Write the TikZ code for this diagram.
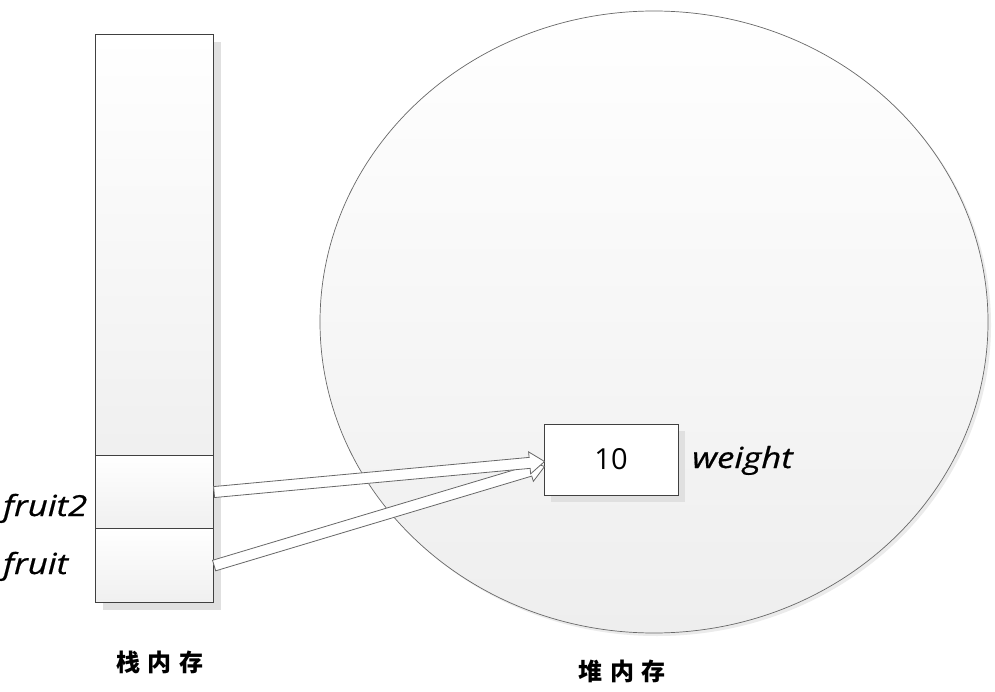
\documentclass[tikz,border=0pt]{standalone}
\usepackage{fontspec}
\usetikzlibrary{shapes.geometric,shadows,calc}
\newfontfamily\labelfont{Open Sans}
\newfontfamily\itlabelfont[FakeStretch=1.2, FakeBold=0.6]{Open Sans Italic}
\newfontfamily\cjk{Noto Sans CJK SC}
\definecolor{shadowgray}{HTML}{E0E0E0}
\definecolor{edgedark}{HTML}{404040}
\definecolor{edgegray}{HTML}{686868}
\definecolor{heapbottom}{HTML}{EEEEEE}
\tikzset{
  cell/.style={draw=edgedark, line width=1.1pt, top color=white, bottom color=black!6,
    inner sep=0pt, anchor=north west,
    general shadow={shadow xshift=7pt, shadow yshift=-7pt, fill=shadowgray}},
  heap/.style={ellipse, draw=edgegray, line width=0.7pt, top color=white, bottom color=heapbottom,
    inner sep=0pt, minimum width=668pt, minimum height=622pt,
    general shadow={shadow xshift=3pt, shadow yshift=-3pt, fill=black!8}},
  valbox/.style={draw=edgedark, line width=0.9pt, fill=white, inner sep=0pt,
    minimum width=134pt, minimum height=71pt,
    general shadow={shadow xshift=7pt, shadow yshift=-7pt, fill=shadowgray},
    font=\labelfont\fontsize{29}{29}\selectfont},
  itlabel/.style={anchor=base west, inner sep=0pt, font=\itlabelfont\fontsize{29}{29}\selectfont},
  cjklabel/.style={inner sep=0pt, font=\cjk\bfseries\fontsize{24}{24}\selectfont},
  arrowbody/.style={draw=edgegray, line width=0.8pt, fill=white, line join=miter},
  arrowshadow/.style={fill=black!13}
}
\newcommand\hollowarrow[2]{%
  \path (#1) coordinate (ha-a) (#2) coordinate (ha-b);
  \path ($(ha-b)!15pt!(ha-a)$) coordinate (ha-c);
  \fill[arrowshadow, shift={(2pt,-4pt)}]
    ($(ha-a)!5.5pt!90:(ha-b)$) -- ($(ha-c)!5.5pt!-90:(ha-a)$) -- ($(ha-c)!11pt!-90:(ha-a)$)
    -- (ha-b) -- ($(ha-c)!11pt!90:(ha-a)$) -- ($(ha-c)!5.5pt!90:(ha-a)$)
    -- ($(ha-a)!5.5pt!-90:(ha-b)$) -- cycle;
  \draw[arrowbody]
    ($(ha-a)!5.5pt!90:(ha-b)$) -- ($(ha-c)!5.5pt!-90:(ha-a)$) -- ($(ha-c)!11pt!-90:(ha-a)$)
    -- (ha-b) -- ($(ha-c)!11pt!90:(ha-a)$) -- ($(ha-c)!5.5pt!90:(ha-a)$)
    -- ($(ha-a)!5.5pt!-90:(ha-b)$) -- cycle;
}
\begin{document}
\begin{tikzpicture}[x=1pt, y=-1pt]
\useasboundingbox[fill=white] (0,0) rectangle (995,692);
% heap
\node[heap] (heap) at (654,322) {};
% stack
\node[cell, minimum width=118pt, minimum height=421pt] (stop) at (95,34) {};
\node[cell, minimum width=118pt, minimum height=73pt] (s2) at (95,455) {};
\node[cell, minimum width=118pt, minimum height=74pt] (s1) at (95,528) {};
% value box
\node[valbox] (v) at (611,459.5) {10};
\node[itlabel] (w) at (692,468) {weight};
% stack labels
\node[itlabel] (l2) at (3,516) {fruit2};
\node[itlabel] (l1) at (3,574) {fruit};
% arrows
\path ($(v.west)+(1,7)$) coordinate (t1);
\path ($(v.west)+(1,2)$) coordinate (t2);
\hollowarrow{s1.east}{t1}
\hollowarrow{s2.east}{t2}
% captions
\node[cjklabel] (c1) at (160,662) {栈\hspace{8pt}内\hspace{8pt}存};
\node[cjklabel] (c2) at (622,671) {堆\hspace{8pt}内\hspace{8pt}存};
\end{tikzpicture}
\end{document}
